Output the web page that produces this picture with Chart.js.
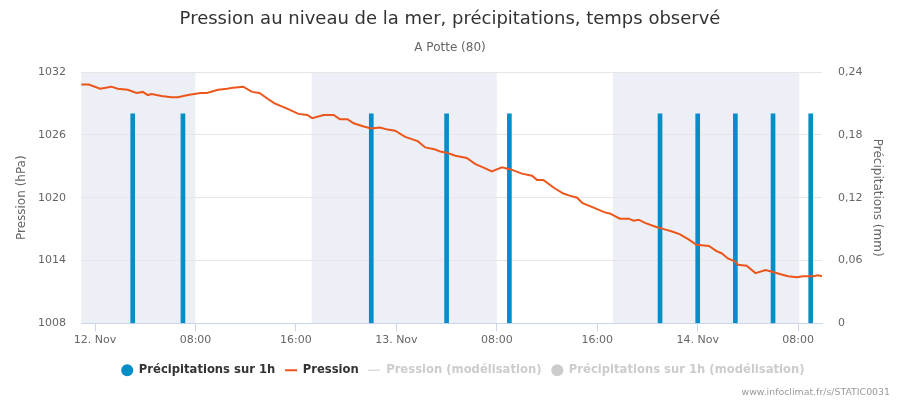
<!DOCTYPE html>
<html>
<head>
<meta charset="utf-8">
<script src="https://cdn.jsdelivr.net/npm/chart.js@4/dist/chart.umd.min.js"></script>
<style>
  html, body { margin: 0; padding: 0; background: #fff; }
  #wrap { position: relative; width: 900px; height: 400px; }
  #credits { position: absolute; right: 10px; bottom: 3px; font: 9.4px "DejaVu Sans", sans-serif; color: #999; }
</style>
</head>
<body>
<div id="wrap">
  <canvas id="chart" width="900" height="400"></canvas>
  <div id="credits">www.infoclimat.fr/s/STATIC0031</div>
</div>
<script>
// hours counted from 12 Nov 00:00
const pressureHours = [-1.1, -0.5, 0.4, 1.3, 1.8, 2.6, 3.3, 3.8, 4.2, 4.5, 5.3, 6.1, 6.6, 7.4, 8.4, 8.9, 9.8, 10.5, 11.0, 11.8,
  12.5, 13.1, 13.8, 14.3, 15.3, 16.2, 16.9, 17.3, 18.2, 19.0, 19.5, 20.1, 20.6, 21.4, 22.0, 22.7, 23.3, 23.9, 24.7, 25.7,
  26.3, 27.1, 27.5, 28.0, 28.7, 29.6, 30.3, 30.9, 31.6, 32.4, 33.1, 34.0, 34.8, 35.2, 35.7, 36.6, 37.3, 37.8, 38.4, 38.8,
  39.8, 40.6, 41.0, 41.8, 42.5, 42.9, 43.3, 43.8, 44.7, 45.3, 45.9, 46.6, 47.3, 47.9, 48.9, 49.5, 49.9, 50.4, 51.0, 51.2,
  51.9, 52.6, 53.4, 54.0, 54.6, 55.2, 55.9, 56.4, 57.2, 57.6, 57.9];
const pressureValues = [1030.8, 1030.8, 1030.4, 1030.6, 1030.4, 1030.3, 1030.0, 1030.1, 1029.8, 1029.9, 1029.7, 1029.6, 1029.6, 1029.8, 1030.0, 1030.0, 1030.3, 1030.4, 1030.5, 1030.6,
  1030.1, 1030.0, 1029.4, 1029.0, 1028.5, 1028.0, 1027.9, 1027.6, 1027.9, 1027.9, 1027.5, 1027.5, 1027.1, 1026.8, 1026.6, 1026.7, 1026.5, 1026.4, 1025.8, 1025.4,
  1024.8, 1024.6, 1024.4, 1024.3, 1024.0, 1023.8, 1023.2, 1022.9, 1022.5, 1022.9, 1022.7, 1022.3, 1022.1, 1021.7, 1021.7, 1020.9, 1020.4, 1020.2, 1020.0, 1019.5,
  1019.0, 1018.6, 1018.5, 1018.0, 1018.0, 1017.8, 1017.9, 1017.6, 1017.2, 1017.0, 1016.8, 1016.5, 1016.0, 1015.5, 1015.4, 1014.9, 1014.7, 1014.2, 1013.9, 1013.6,
  1013.5, 1012.8, 1013.1, 1012.9, 1012.7, 1012.5, 1012.4, 1012.5, 1012.5, 1012.6, 1012.5];

const rainHours = [3, 7, 22, 28, 33, 45, 48, 51, 54, 57];
const rainValues = [0.2, 0.2, 0.2, 0.2, 0.2, 0.2, 0.2, 0.2, 0.2, 0.2];

const nightStart = [-1.1, 17.25, 41.25];
const nightEnd = [8, 32, 56.1];

const xTickHours = [0, 8, 16, 24, 32, 40, 48, 56];
const xTickLabels = ['12. Nov', '08:00', '16:00', '13. Nov', '08:00', '16:00', '14. Nov', '08:00'];

const FONT = '"DejaVu Sans", sans-serif';

const nightBands = {
  id: 'nightBands',
  beforeDraw(chart) {
    const ctx = chart.ctx, a = chart.chartArea, x = chart.scales.x;
    ctx.save();
    ctx.fillStyle = 'rgba(68,102,170,0.1)';
    for (let i = 0; i < nightStart.length; i++) {
      const x0 = Math.max(a.left, x.getPixelForValue(nightStart[i]));
      const x1 = Math.min(a.right, x.getPixelForValue(nightEnd[i]));
      ctx.fillRect(x0, a.top, x1 - x0, a.bottom - a.top);
    }
    ctx.restore();
  }
};

// the original legend sits a bit right of centre
const legendShift = {
  id: 'legendShift',
  afterLayout(chart) {
    chart.legend.left += 13;
    chart.legend.right += 13;
  }
};

new Chart(document.getElementById('chart'), {
  type: 'bar',
  data: {
    datasets: [{
      type: 'line',
      label: 'Pression',
      data: pressureHours.map((h, i) => ({ x: h, y: pressureValues[i] })),
      borderColor: '#ED561B',
      borderWidth: 2,
      pointRadius: 0,
      tension: 0,
      yAxisID: 'y',
      order: 0
    }, {
      type: 'bar',
      label: 'Précipitations sur 1h',
      data: rainHours.map((h, i) => ({ x: h, y: rainValues[i] })),
      backgroundColor: '#058DC7',
      barThickness: 4,
      yAxisID: 'y1',
      order: 1
    }]
  },
  options: {
    responsive: false,
    animation: false,
    layout: { padding: { left: 0, right: 0, top: 0, bottom: 14 } },
    plugins: {
      title: {
        display: true,
        text: 'Pression au niveau de la mer, précipitations, temps observé',
        color: '#333',
        font: { family: FONT, size: 18, weight: 'normal' },
        padding: { top: 9, bottom: 4 }
      },
      subtitle: {
        display: true,
        text: 'A Potte (80)',
        color: '#666',
        font: { family: FONT, size: 12 },
        padding: { top: 6, bottom: 17 }
      },
      legend: {
        position: 'bottom',
        labels: {
          usePointStyle: true,
          boxHeight: 8.5,
          padding: 10,
          font: { family: FONT, size: 11.6, weight: 'bold' },
          generateLabels: () => [
            { text: 'Précipitations sur 1h', pointStyle: 'circle', fillStyle: '#058DC7', strokeStyle: '#058DC7', lineWidth: 0, fontColor: '#333', hidden: false },
            { text: 'Pression', pointStyle: 'line', fillStyle: '#ED561B', strokeStyle: '#ED561B', lineWidth: 2, fontColor: '#333', hidden: false },
            { text: 'Pression (modélisation)', pointStyle: 'line', fillStyle: '#bbb', strokeStyle: '#bbb', lineWidth: 1.5, lineDash: [1, 1], fontColor: '#ccc', hidden: false },
            { text: 'Précipitations sur 1h (modélisation)', pointStyle: 'circle', fillStyle: '#ccc', strokeStyle: '#ccc', lineWidth: 0, fontColor: '#ccc', hidden: false }
          ]
        },
        onClick: () => {}
      },
      tooltip: { enabled: false }
    },
    scales: {
      x: {
        type: 'linear',
        min: -1.12,
        max: 57.9,
        offset: false,
        afterBuildTicks: s => { s.ticks = xTickHours.map(v => ({ value: v })); },
        afterFit: s => { s.height = 31; },
        ticks: {
          color: '#666',
          font: { family: FONT, size: 11 },
          padding: 2,
          maxRotation: 0,
          callback: v => xTickLabels[xTickHours.indexOf(v)]
        },
        grid: { drawOnChartArea: false, drawTicks: true, tickLength: 8, color: '#ccd6eb', offset: false },
        border: { color: '#ccd6eb' }
      },
      y: {
        position: 'left',
        min: 1008,
        max: 1032,
        afterFit: s => { s.width = 81; },
        ticks: { stepSize: 6, color: '#666', padding: 15, font: { family: FONT, size: 11 }, callback: v => String(v) },
        grid: { color: '#e6e6e6', drawTicks: false },
        border: { display: false },
        title: { display: true, text: 'Pression (hPa)', color: '#666', font: { family: FONT, size: 12 }, padding: { top: 15 } }
      },
      y1: {
        position: 'right',
        min: 0,
        max: 0.24,
        afterFit: s => { s.width = 78; },
        ticks: {
          stepSize: 0.06, color: '#666', padding: 16, font: { family: FONT, size: 11 },
          callback: v => v === 0 ? '0' : v.toFixed(2).replace('.', ',')
        },
        grid: { drawOnChartArea: false, drawTicks: false },
        border: { display: false },
        title: { display: true, text: 'Précipitations (mm)', color: '#666', font: { family: FONT, size: 12 }, padding: { top: 16 } }
      }
    }
  },
  plugins: [nightBands, legendShift]
});
</script>
</body>
</html>
